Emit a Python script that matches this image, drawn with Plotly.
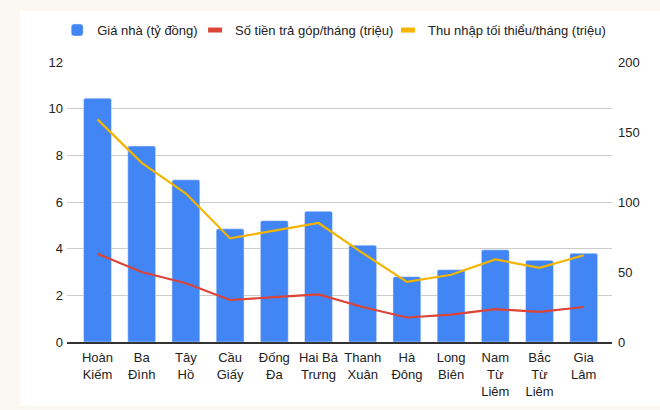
import plotly.graph_objects as go

# Quận Hà Nội
districts = ['Hoàn Kiếm', 'Ba Đình', 'Tây Hồ', 'Cầu Giấy', 'Đống Đa', 'Hai Bà Trưng',
             'Thanh Xuân', 'Hà Đông', 'Long Biên', 'Nam Từ Liêm', 'Bắc Từ Liêm', 'Gia Lâm']
tick_labels = ['Hoàn<br>Kiếm', 'Ba<br>Đình', 'Tây<br>Hồ', 'Cầu<br>Giấy', 'Đống<br>Đa',
               'Hai Bà<br>Trưng', 'Thanh<br>Xuân', 'Hà<br>Đông', 'Long<br>Biên',
               'Nam<br>Từ<br>Liêm', 'Bắc<br>Từ<br>Liêm', 'Gia<br>Lâm']

gia_nha = [10.45, 8.4, 6.95, 4.85, 5.2, 5.6, 4.15, 2.8, 3.1, 3.95, 3.5, 3.8]        # tỷ đồng
tra_gop = [63, 50, 42, 30, 32, 34, 25, 17.5, 19.5, 23.5, 21.5, 25]                 # triệu
thu_nhap = [159, 128, 106, 74, 79.5, 85, 63.5, 43, 48, 59, 53, 62]                  # triệu

C_BAR = '#4285f4'
C_RED = '#db4437'
C_YEL = '#f4b400'
C_TEXT = '#222222'
C_GRID = '#cccccc'
C_BG = '#fbf7f2'

fig = go.Figure()
fig.add_trace(go.Bar(name='Giá nhà (tỷ đồng)', x=districts, y=gia_nha,
                     marker_color=C_BAR, width=0.63, legend='legend'))
fig.add_trace(go.Scatter(x=districts, y=tra_gop, yaxis='y2', mode='lines',
                         line=dict(color=C_RED, width=2.2), showlegend=False))
fig.add_trace(go.Scatter(x=districts, y=thu_nhap, yaxis='y2', mode='lines',
                         line=dict(color=C_YEL, width=2.2), showlegend=False))
# legend swatches: short thick bars like the original, each in its own legend box
for name, col, lg in [('Số tiền trả góp/tháng (triệu)', C_RED, 'legend2'),
                      ('Thu nhập tối thiểu/tháng (triệu)', C_YEL, 'legend3')]:
    fig.add_trace(go.Scatter(name=name, x=[None], y=[None], yaxis='y2', mode='markers',
                             legend=lg,
                             marker=dict(symbol='line-ew', size=10,
                                         line=dict(color=col, width=5))))

leg = dict(orientation='h', xanchor='left', y=1.114, yanchor='middle',
           bgcolor='rgba(0,0,0,0)', font=dict(size=13))

fig.update_layout(
    width=660, height=410,
    margin=dict(l=67, r=48, t=62, b=68, autoexpand=False),
    paper_bgcolor=C_BG, plot_bgcolor='white',
    font=dict(family='Liberation Sans, Arial, sans-serif', size=13, color=C_TEXT),
    barcornerradius=2,
    showlegend=True,
    legend=dict(leg, x=-0.018),
    legend2=dict(leg, x=0.235),
    legend3=dict(leg, x=0.589),
    xaxis=dict(range=[-0.69, 11.64], tickmode='array', tickvals=districts,
               ticktext=tick_labels, showline=True, linecolor='#333333', linewidth=1.5,
               showgrid=False, ticks='', ticklabelstandoff=3),
    yaxis=dict(range=[0, 12], dtick=2, gridcolor=C_GRID, zeroline=False, ticks='',
               ticklabelstandoff=3),
    yaxis2=dict(range=[0, 200], dtick=50, overlaying='y', side='right',
                showgrid=False, zeroline=False, ticks='', ticklabelstandoff=5),
    shapes=[dict(type='rect', xref='paper', yref='paper', x0=-0.086, x1=1.1,
                 y0=-0.229, y1=1.182, fillcolor='white', line_width=0, layer='below')],
)

fig.write_html('out.html', config={'displayModeBar': False},
               post_script="document.body.style.margin='0';"
                           "document.body.style.background='#fbf7f2';")
